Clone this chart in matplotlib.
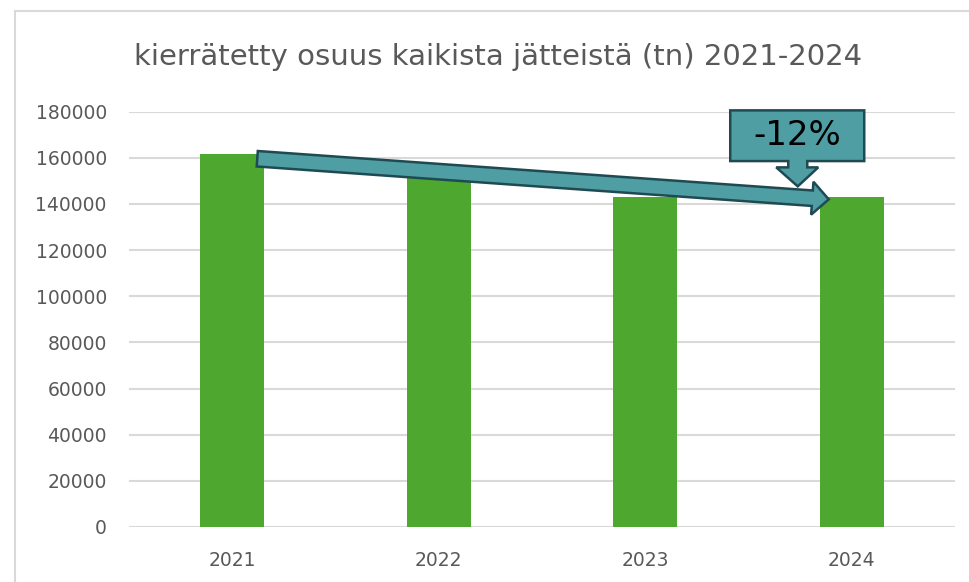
import matplotlib
matplotlib.use("Agg")
import matplotlib.pyplot as plt
import matplotlib.patches as mpatches
import matplotlib.transforms as mtransforms
import numpy as np

# ---- data ----
years = ["2021", "2022", "2023", "2024"]
values = [161700, 151000, 143000, 142800]
y_ticks = [0, 20000, 40000, 60000, 80000, 100000, 120000, 140000, 160000, 180000]
title = "kierrätetty osuus kaikista jätteistä (tn) 2021-2024"

BAR_COLOR = "#4EA72E"
GRID_COLOR = "#D9D9D9"
TEXT_COLOR = "#595959"
ARROW_FILL = "#4F9EA3"
ARROW_EDGE = "#1F4A52"

W, H, DPI = 969, 582, 100
fig = plt.figure(figsize=(W / DPI, H / DPI), dpi=DPI)
fig.patch.set_facecolor("white")

# axes placed in pixel terms
left, right, top, bottom = 129, 955, 111.5, 527
ax = fig.add_axes([left / W, (H - bottom) / H, (right - left) / W, (bottom - top) / H])

x = np.arange(len(years))
bw = 0.31
ax.bar(x, values, width=bw, color=BAR_COLOR, zorder=2)

ax.set_xlim(-0.5, len(years) - 0.5)
ax.set_ylim(y_ticks[0], y_ticks[-1])
ax.set_yticks(y_ticks)
ax.set_yticklabels([str(t) for t in y_ticks])
ax.set_xticks(x)
ax.set_xticklabels(years)
ax.yaxis.grid(True, color=GRID_COLOR, linewidth=1.5, zorder=0)
ax.set_axisbelow(True)
for s in ax.spines.values():
    s.set_visible(False)
ax.tick_params(axis="both", length=0, colors=TEXT_COLOR, labelsize=13.5)
ax.tick_params(axis="y", pad=16)
ax.tick_params(axis="x", pad=17)

# title
fig.text(498 / W, 1 - 57 / H, title, ha="center", va="center",
         fontsize=21, color=TEXT_COLOR)

# outer chart border (top & left visible, rest cropped)
border = mpatches.Rectangle((15 / W, -0.1), 1.2, (H - 11) / H + 0.1,
                            transform=fig.transFigure, fill=False,
                            edgecolor=GRID_COLOR, linewidth=1.5, zorder=0)
fig.add_artist(border)

# ---- trend arrow (display coordinates, anchored to bars) ----
fig.canvas.draw()
p0 = ax.transData.transform((x[0] + bw / 2, values[0]))
p1 = ax.transData.transform((x[-1] - bw / 2, values[-1]))
start = p0 + np.array([-7.0, -5.0])
end = p1 + np.array([9.0, -2.0])
arrow = mpatches.FancyArrow(start[0], start[1], end[0] - start[0], end[1] - start[1],
                            width=15.5, head_width=33, head_length=16.5,
                            length_includes_head=True,
                            transform=mtransforms.IdentityTransform(),
                            facecolor=ARROW_FILL, edgecolor=ARROW_EDGE,
                            linewidth=1.8, zorder=6, clip_on=False)

# ---- callout "-12%" ----
pct = (values[-1] - values[0]) / values[0] * 100
label = f"{pct:.0f}%"
tip = end + np.array([-31.0, 13.0])
verts = np.array([
    (0, 0), (-21.5, 19), (-9.5, 19), (-9.5, 25.3), (-67.5, 25.3), (-67.5, 76),
    (66.5, 76), (66.5, 25.3), (9.5, 25.3), (9.5, 19), (20.5, 19)
]) + tip
callout = mpatches.Polygon(verts, closed=True, transform=mtransforms.IdentityTransform(),
                           facecolor=ARROW_FILL, edgecolor=ARROW_EDGE, linewidth=1.8,
                           zorder=5, clip_on=False)
fig.add_artist(callout)
fig.add_artist(arrow)
tx, ty = tip + np.array([-0.5, 50.5])
fig.text(tx / W, ty / H, label, ha="center", va="center", fontsize=24.5,
         color="black", zorder=7)

fig.savefig("out.png", dpi=DPI)
